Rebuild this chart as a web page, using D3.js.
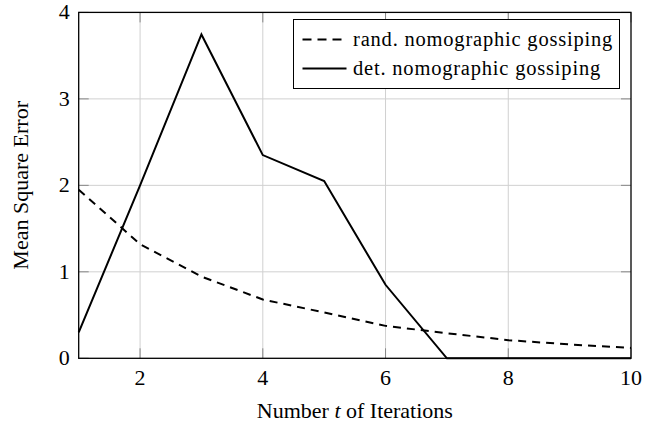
<!DOCTYPE html>
<html>
<head>
<meta charset="utf-8">
<style>
    body { margin: 0; background: white; }
    text { font-family: "Liberation Serif", "DejaVu Serif", serif; }
</style>
</head>
<body>
<svg width="660" height="430"></svg>
<script src="https://cdn.jsdelivr.net/npm/d3@7"></script>
<script>
    // data
    let iterations = [1, 2, 3, 4, 5, 6, 7, 8, 9, 10]
    let randMSE = [1.95, 1.32, 0.945, 0.68, 0.53, 0.375, 0.29, 0.21, 0.16, 0.12]
    let detMSE = [0.3, 2.0, 3.745, 2.35, 2.05, 0.85, 0, 0, 0, 0]
    let xTicks = [2, 4, 6, 8, 10]
    let yTicks = [0, 1, 2, 3, 4]
    let seriesNames = ["rand. nomographic gossiping", "det. nomographic gossiping"]

    let margin = { left: 78.7, top: 12.4, right: 29, bottom: 71.7 }
    let width = 660, height = 430
    let svg = d3.select("svg")

    let x = d3.scaleLinear().domain([1, 10]).range([margin.left, width - margin.right])
    let y = d3.scaleLinear().domain([0, 4]).range([height - margin.bottom, margin.top])

    // grid
    let grid = svg.append("g")
    grid.selectAll(".gx").data(xTicks.filter(d => d < 10)).join("line")
        .attr("x1", d => x(d)).attr("x2", d => x(d))
        .attr("y1", y(0)).attr("y2", y(4))
        .attr("stroke", "#d0d0d0").attr("stroke-width", 1)
    grid.selectAll(".gy").data(yTicks.filter(d => d > 0 && d < 4)).join("line")
        .attr("y1", d => y(d)).attr("y2", d => y(d))
        .attr("x1", x(1)).attr("x2", x(10))
        .attr("stroke", "#d0d0d0").attr("stroke-width", 1)

    // inward tick marks, all four sides
    let tl = 10
    let ticks = svg.append("g").attr("stroke", "#888").attr("stroke-width", 1)
    xTicks.forEach(d => {
        ticks.append("line").attr("x1", x(d)).attr("x2", x(d)).attr("y1", y(0)).attr("y2", y(0) - tl)
        ticks.append("line").attr("x1", x(d)).attr("x2", x(d)).attr("y1", y(4)).attr("y2", y(4) + tl)
    })
    yTicks.forEach(d => {
        ticks.append("line").attr("y1", y(d)).attr("y2", y(d)).attr("x1", x(1)).attr("x2", x(1) + tl)
        ticks.append("line").attr("y1", y(d)).attr("y2", y(d)).attr("x1", x(10)).attr("x2", x(10) - tl)
    })

    // data lines
    let line = d3.line().x(d => x(d[0])).y(d => y(d[1]))
    svg.append("path")
        .datum(iterations.map((d, i) => [d, randMSE[i]]))
        .attr("d", line)
        .attr("fill", "none").attr("stroke", "black").attr("stroke-width", 2)
        .attr("stroke-dasharray", "8,6")
    svg.append("path")
        .datum(iterations.map((d, i) => [d, detMSE[i]]))
        .attr("d", line)
        .attr("fill", "none").attr("stroke", "black").attr("stroke-width", 2)

    // frame
    svg.append("rect")
        .attr("x", x(1)).attr("y", y(4))
        .attr("width", x(10) - x(1)).attr("height", y(0) - y(4))
        .attr("fill", "none").attr("stroke", "black").attr("stroke-width", 1.3)

    // tick labels
    svg.append("g").selectAll("text").data(xTicks).join("text")
        .attr("x", d => x(d)).attr("y", y(0) + 27)
        .attr("text-anchor", "middle").attr("font-size", 22)
        .text(d => d)
    svg.append("g").selectAll("text").data(yTicks).join("text")
        .attr("x", x(1) - 9).attr("y", d => y(d) + 7)
        .attr("text-anchor", "end").attr("font-size", 22)
        .text(d => d)

    // axis titles
    let xt = svg.append("text")
        .attr("x", (x(1) + x(10)) / 2).attr("y", 418)
        .attr("text-anchor", "middle").attr("font-size", 22)
    xt.append("tspan").text("Number ")
    xt.append("tspan").attr("font-style", "italic").text("t")
    xt.append("tspan").text(" of Iterations")

    svg.append("text")
        .attr("transform", `translate(28,${(y(0) + y(4)) / 2}) rotate(-90)`)
        .attr("text-anchor", "middle").attr("font-size", 22)
        .text("Mean Square Error")

    // legend
    let lg = svg.append("g").attr("transform", "translate(293.5,19.5)")
    lg.append("rect").attr("width", 326).attr("height", 69)
        .attr("fill", "white").attr("stroke", "black").attr("stroke-width", 1)
    seriesNames.forEach((name, i) => {
        let cy = 20 + i * 29
        lg.append("line").attr("x1", 9).attr("x2", 53).attr("y1", cy).attr("y2", cy)
            .attr("stroke", "black").attr("stroke-width", 2)
            .attr("stroke-dasharray", i == 0 ? "9,6" : null)
        lg.append("text").attr("x", 59.5).attr("y", cy + 6)
            .attr("font-size", 20.5).attr("letter-spacing", 0.8).text(name)
    })
</script>
</body>
</html>
